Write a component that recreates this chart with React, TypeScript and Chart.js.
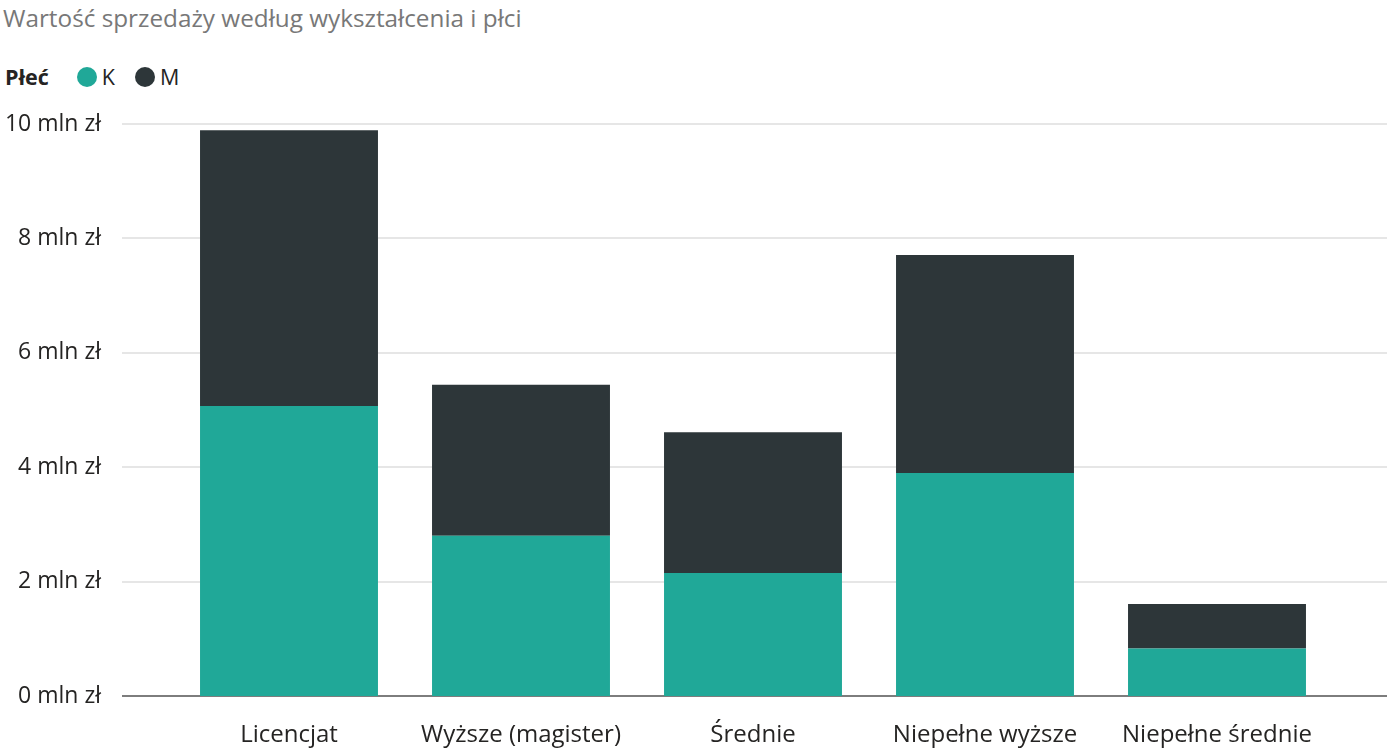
import { useEffect, useRef } from "react"
import { Chart, type ChartConfiguration, type Plugin, registerables } from "chart.js"

Chart.register(...registerables)

const categories = ["Licencjat", "Wyższe (magister)", "Średnie", "Niepełne wyższe", "Niepełne średnie"]
const womenValues = [5.07, 2.8, 2.15, 3.9, 0.83]
const menValues = [4.82, 2.64, 2.46, 3.81, 0.78]
const seriesNames = ["K", "M"]
const seriesColors = ["#20A898", "#2D3639"]

const FONT = "'Open Sans', 'Noto Sans', sans-serif"
const GRID_LEFT = 122

// gridlines in this chart reach further left than the plot area, so draw them ourselves
const fullGrid: Plugin<"bar"> = {
  id: "fullGrid",
  beforeDatasetsDraw(chart) {
    const { ctx, width } = chart
    const y = chart.scales.y
    ctx.save()
    y.ticks.forEach((t) => {
      const py = Math.round(y.getPixelForValue(t.value))
      ctx.strokeStyle = t.value === 0 ? "#7d7d7d" : "#e6e6e6"
      ctx.lineWidth = 2
      ctx.beginPath()
      ctx.moveTo(GRID_LEFT, py)
      ctx.lineTo(width, py)
      ctx.stroke()
    })
    ctx.restore()
  },
}

export default function App() {
  const chartRef = useRef<HTMLCanvasElement>(null)
  const chartInstance = useRef<Chart | null>(null)

  useEffect(() => {
    if (!chartRef.current) return
    if (chartInstance.current) chartInstance.current.destroy()

    const ctx = chartRef.current.getContext("2d")
    if (!ctx) return

    const config: ChartConfiguration<"bar"> = {
      type: "bar",
      data: {
        labels: categories,
        datasets: [
          {
            label: seriesNames[0],
            data: womenValues,
            backgroundColor: seriesColors[0],
            borderWidth: 0,
            categoryPercentage: 1,
            barPercentage: 0.767,
          },
          {
            label: seriesNames[1],
            data: menValues,
            backgroundColor: seriesColors[1],
            borderWidth: 0,
            categoryPercentage: 1,
            barPercentage: 0.767,
          },
        ],
      },
      options: {
        responsive: false,
        animation: false,
        layout: { padding: { top: 124, right: 54, bottom: 0, left: 0 } },
        plugins: {
          legend: { display: false },
          title: { display: false },
          tooltip: { enabled: false },
        },
        scales: {
          x: {
            stacked: true,
            afterFit: (scale) => {
              scale.height = 56
            },
            grid: { display: false, drawTicks: false },
            border: { display: false },
            ticks: {
              color: "#252423",
              padding: 25,
              maxRotation: 0,
              font: { family: FONT, size: 24 },
            },
          },
          y: {
            stacked: true,
            min: 0,
            max: 10,
            afterFit: (scale) => {
              // the big label gap would otherwise be added above and below the plot too
              scale.width = 173
              scale.paddingTop = 0
              scale.paddingBottom = 0
            },
            grid: { display: false, drawTicks: false },
            border: { display: false },
            ticks: {
              stepSize: 2,
              color: "#252423",
              padding: 72,
              font: { family: FONT, size: 23 },
              callback: (v) => `${v} mln zł`,
            },
          },
        },
      },
      plugins: [fullGrid],
    }

    chartInstance.current = new Chart(ctx, config)

    return () => {
      if (chartInstance.current) {
        chartInstance.current.destroy()
        chartInstance.current = null
      }
    }
  }, [])

  return (
    <div style={{ position: "fixed", left: 0, top: 0, width: 1387, height: 752, background: "#fff", fontFamily: FONT }}>
      <div style={{ position: "absolute", left: 3, top: 1, fontSize: 24.3, color: "#787878", whiteSpace: "nowrap" }}>
        Wartość sprzedaży według wykształcenia i płci
      </div>
      <div style={{ position: "absolute", left: 5, top: 62, display: "flex", alignItems: "center", fontSize: 21.5, color: "#252423" }}>
        <span style={{ fontWeight: 700, marginRight: 28 }}>Płeć</span>
        {seriesNames.map((name, i) => (
          <span key={name} style={{ display: "flex", alignItems: "center", marginRight: 20 }}>
            <span style={{ width: 20, height: 20, borderRadius: "50%", background: seriesColors[i], marginRight: 5 }} />
            {name}
          </span>
        ))}
      </div>
      <canvas ref={chartRef} width={1387} height={752} style={{ position: "absolute", left: 0, top: 0 }} />
    </div>
  )
}
